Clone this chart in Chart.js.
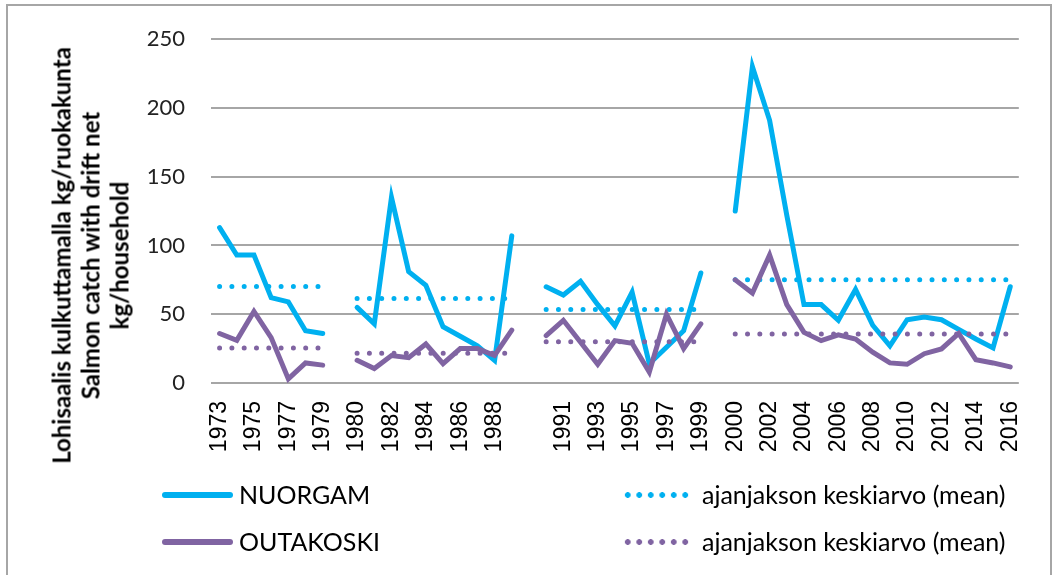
<!DOCTYPE html>
<html>
<head>
<meta charset="utf-8">
<script src="https://cdn.jsdelivr.net/npm/chart.js@4/dist/chart.umd.min.js"></script>
<style>
    html, body { margin: 0; padding: 0; background: #fff; }
    #wrap { position: relative; width: 1056px; height: 575px; overflow: hidden; }
    #chart { position: absolute; left: 0; top: 0; }
    .frame {
        position: absolute; left: 6px; top: 4px; width: 1046px; height: 600px;
        border: 2px solid #a6a6a6; box-sizing: border-box;
    }
    #ytitle {
        position: absolute; left: -160px; top: 212px; width: 500px;
        line-height: 33px; text-align: center;
        font: bold 24px Lato, sans-serif; color: #000;
        transform: rotate(-90deg);
        white-space: nowrap;
    }
    .lg-line { position: absolute; height: 6px; border-radius: 3px; }
    .lg-dots { position: absolute; height: 6px; }
    .lg-text { position: absolute; font: 25px Lato, sans-serif; color: #000; line-height: 30px; white-space: nowrap; }
</style>
</head>
<body>
<div id="wrap">
    <div class="frame"></div>
    <canvas id="chart" width="1056" height="575"></canvas>
    <div id="ytitle">Lohisaalis kulkuttamalla kg/ruokakunta<br>Salmon catch with drift net<br>kg/household</div>
    <div id="legend"></div>
</div>
<script>
// Categories (blank entries separate the periods)
const years = ['1973', '1974', '1975', '1976', '1977', '1978', '1979', '',
    '1980', '1981', '1982', '1983', '1984', '1985', '1986', '1987', '1988', '1989', '',
    '1990', '1991', '1992', '1993', '1994', '1995', '1996', '1997', '1998', '1999', '',
    '2000', '2001', '2002', '2003', '2004', '2005', '2006', '2007', '2008', '2009',
    '2010', '2011', '2012', '2013', '2014', '2015', '2016'];

// kg / household
const nuorgam = [113, 93, 93, 62, 59, 38, 36, null,
    55, 43, 135, 81, 71, 41, 34, 27, 16.5, 107, null,
    70, 64, 74, 57, 41.5, 66, 14, 26, 38, 80, null,
    125, 230, 191, 122, 57, 57, 45.6, 68, 42, 27, 46, 48, 46, 39, 32, 25.5, 70];

const outakoski = [36, 31, 52, 33, 3, 14.6, 13, null,
    16.5, 10.5, 20, 18.4, 28.4, 14, 25, 25, 20, 38.4, null,
    34.4, 45.6, 29.6, 13.6, 30.8, 28.9, 8, 50, 25, 43, null,
    75, 65.4, 93, 57, 36.8, 30.8, 35, 32, 22.4, 14.6, 13.6, 21.3, 24.8, 36, 17, 14.6, 11.7];

// period means (ajanjakson keskiarvo)
const nuorgamMean = [70.2, 70.2, 70.2, 70.2, 70.2, 70.2, 70.2, null,
    61.4, 61.4, 61.4, 61.4, 61.4, 61.4, 61.4, 61.4, 61.4, 61.4, null,
    53.5, 53.5, 53.5, 53.5, 53.5, 53.5, 53.5, 53.5, 53.5, 53.5, null,
    75, 75, 75, 75, 75, 75, 75, 75, 75, 75, 75, 75, 75, 75, 75, 75, 75];

const outakoskiMean = [25.5, 25.5, 25.5, 25.5, 25.5, 25.5, 25.5, null,
    21.7, 21.7, 21.7, 21.7, 21.7, 21.7, 21.7, 21.7, 21.7, 21.7, null,
    30, 30, 30, 30, 30, 30, 30, 30, 30, 30, null,
    35.6, 35.6, 35.6, 35.6, 35.6, 35.6, 35.6, 35.6, 35.6, 35.6, 35.6, 35.6, 35.6, 35.6, 35.6, 35.6, 35.6];

const yTicks = [0, 50, 100, 150, 200, 250];

const CYAN = '#00b0f0';
const PURPLE = '#8064a2';

const legendItems = [
    { label: 'NUORGAM', color: CYAN, dotted: false, x: 162, y: 495 },
    { label: 'ajanjakson keskiarvo (mean)', color: CYAN, dotted: true, x: 622, y: 495 },
    { label: 'OUTAKOSKI', color: PURPLE, dotted: false, x: 162, y: 542 },
    { label: 'ajanjakson keskiarvo (mean)', color: PURPLE, dotted: true, x: 622, y: 542 }
];

function solidLine(label, data, color, order) {
    return {
        label: label, data: data, borderColor: color, backgroundColor: color,
        borderWidth: 5, pointRadius: 0, tension: 0, spanGaps: false,
        borderCapStyle: 'round', borderJoinStyle: 'miter', order: order
    };
}

function dottedLine(label, data, color, order) {
    return {
        label: label, data: data, borderColor: color, backgroundColor: color,
        borderWidth: 5, pointRadius: 0, tension: 0, spanGaps: false,
        borderDash: [0, 12.3], borderCapStyle: 'round', order: order
    };
}

new Chart(document.getElementById('chart'), {
    type: 'line',
    data: {
        labels: years,
        datasets: [
            solidLine('NUORGAM', nuorgam, CYAN, 3),
            dottedLine('ajanjakson keskiarvo (mean)', nuorgamMean, CYAN, 2),
            solidLine('OUTAKOSKI', outakoski, PURPLE, 1),
            dottedLine('ajanjakson keskiarvo (mean)', outakoskiMean, PURPLE, 0)
        ]
    },
    options: {
        responsive: false,
        animation: false,
        layout: { padding: { left: 0, top: 34, right: 16, bottom: 0 } },
        plugins: {
            legend: { display: false },
            tooltip: { enabled: false }
        },
        scales: {
            x: {
                offset: true,
                grid: { display: false, drawTicks: false },
                border: { display: false },
                ticks: {
                    autoSkip: false,
                    maxRotation: 90,
                    minRotation: 90,
                    padding: 18,
                    color: '#000',
                    font: { family: "'Liberation Sans', Arial, sans-serif", size: 23 },
                    callback: function(value, index) {
                        return index % 2 === 0 ? years[index] : '';
                    }
                },
                afterFit: function(scale) { scale.height = 192; }
            },
            y: {
                min: 0,
                max: 250,
                afterBuildTicks: function(scale) {
                    scale.ticks = yTicks.map(v => ({ value: v }));
                },
                grid: { color: '#a6a6a6', lineWidth: 2, drawTicks: false },
                border: { display: false },
                ticks: {
                    padding: 26,
                    color: '#222',
                    font: { family: "Lato, sans-serif", size: 22 }
                },
                afterFit: function(scale) { scale.width = 211; }
            }
        }
    }
});

// Legend in two columns like the original
const legend = document.getElementById('legend');
legendItems.forEach(item => {
    const sample = document.createElement('div');
    if (item.dotted) {
        sample.className = 'lg-dots';
        sample.style.left = item.x + 'px';
        sample.style.top = (item.y - 3) + 'px';
        sample.style.width = '69px';
        sample.style.backgroundImage = 'radial-gradient(circle, ' + item.color + ' 2.6px, transparent 3.1px)';
        sample.style.backgroundSize = '11.5px 6px';
    } else {
        sample.className = 'lg-line';
        sample.style.left = item.x + 'px';
        sample.style.top = (item.y - 3) + 'px';
        sample.style.width = '71px';
        sample.style.background = item.color;
    }
    legend.appendChild(sample);

    const text = document.createElement('div');
    text.className = 'lg-text';
    text.textContent = item.label;
    text.style.left = (item.dotted ? 702 : 239) + 'px';
    text.style.top = (item.y - 16) + 'px';
    legend.appendChild(text);
});
</script>
</body>
</html>
